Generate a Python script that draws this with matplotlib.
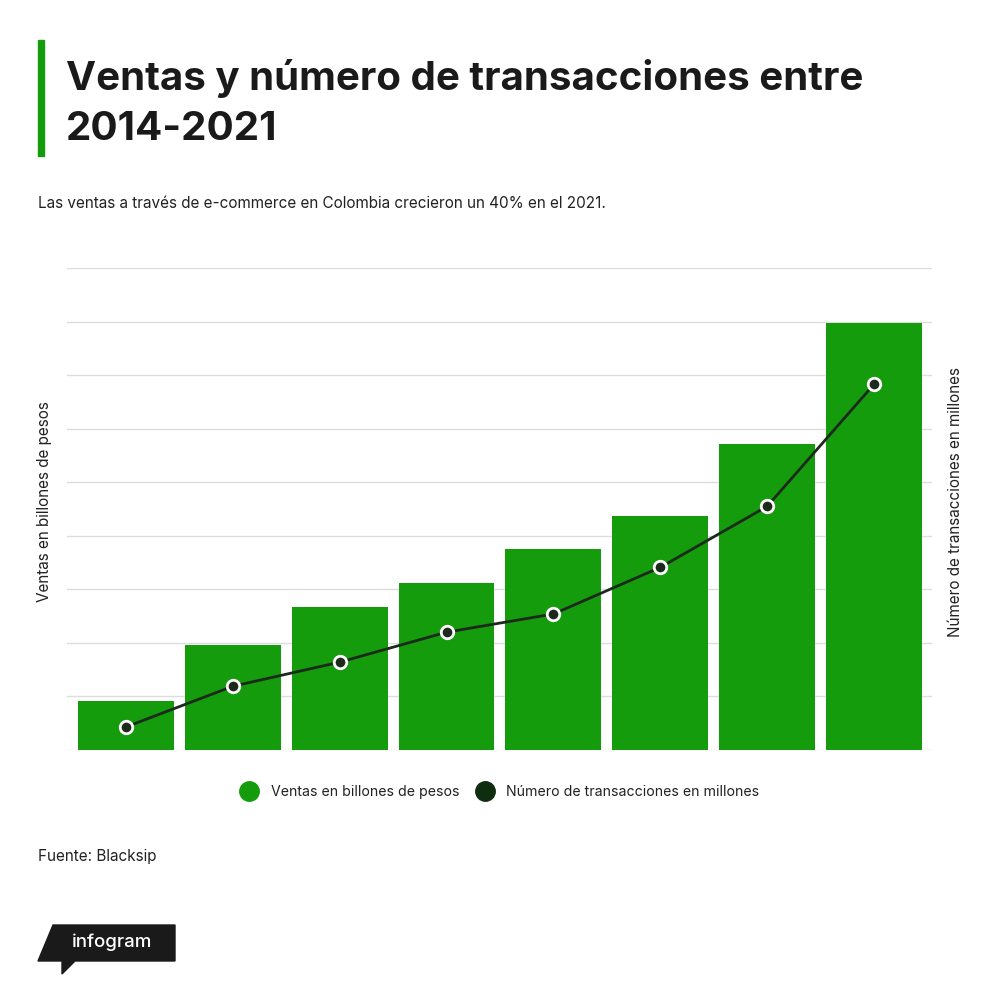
import matplotlib.pyplot as plt
import numpy as np
from matplotlib.lines import Line2D
from matplotlib.patches import Polygon, Rectangle

# data (no tick labels in the original, values in grid units)
years = ['2014', '2015', '2016', '2017', '2018', '2019', '2020', '2021']
ventas = [0.91, 1.96, 2.67, 3.12, 3.75, 4.37, 5.71, 7.97]
transacciones = [0.43, 1.19, 1.64, 2.20, 2.54, 3.41, 4.55, 6.83]

green = '#149c0c'
dark = '#1c2a1c'
font = ['Inter', 'DejaVu Sans']
plt.rcParams['font.family'] = font

W, H = 1000, 993
fig = plt.figure(figsize=(W / 100, H / 100), dpi=100)
fig.patch.set_facecolor('white')

def fx(px): return px / W
def fy(py): return 1 - py / H

ax = fig.add_axes([fx(67), fy(750), fx(932) - fx(67), fy(268) - fy(750)])
x = np.arange(len(years))
ax.bar(x, ventas, width=0.897, color=green, zorder=2)
ax.set_xlim(-0.551, len(years) - 0.458)
ax.set_ylim(0, 9)
ax.set_yticks(np.arange(0, 10))
ax.grid(axis='y', color='#dddddd', linewidth=1, zorder=0)
for s in ax.spines.values():
    s.set_visible(False)

ax2 = ax.twinx()
ax2.plot(x, transacciones, color=dark, linewidth=2, marker='o', markersize=9,
         markerfacecolor=dark, markeredgecolor='white', markeredgewidth=2, zorder=3)
ax2.set_ylim(0, 9)
for s in ax2.spines.values():
    s.set_visible(False)
# twinx resets the left ticks, so hide them afterwards
ax.tick_params(left=False, right=False, bottom=False, labelleft=False, labelbottom=False)
ax2.tick_params(left=False, right=False, labelleft=False, labelright=False)

# axis labels
fig.text(fx(45), fy(502), 'Ventas en billones de pesos', rotation=90,
         ha='center', va='center', fontsize=11, color='#222222')
fig.text(fx(955), fy(502), 'Número de transacciones en millones', rotation=90,
         ha='center', va='center', fontsize=11, color='#222222')

# title block
fig.patches.append(Rectangle((fx(38), fy(156)), fx(6), fy(40) - fy(156),
                             transform=fig.transFigure, color=green))
fig.text(fx(66), fy(78), 'Ventas y número de transacciones entre',
         fontsize=29, fontweight='bold', color='#1a1a1a', va='center')
fig.text(fx(66), fy(130), '2014-2021',
         fontsize=29, fontweight='bold', color='#1a1a1a', va='center')
fig.text(fx(38), fy(203), 'Las ventas a través de e-commerce en Colombia crecieron un 40% en el 2021.',
         fontsize=11, color='#222222', va='center')

# legend
handles = [Line2D([], [], linestyle='none', marker='o', markersize=14, color=green),
           Line2D([], [], linestyle='none', marker='o', markersize=14, color='#0f2e0f')]
fig.legend(handles, ['Ventas en billones de pesos', 'Número de transacciones en millones'],
           loc='center', bbox_to_anchor=(fx(497), fy(792)), ncol=2, frameon=False,
           fontsize=10.2, handletextpad=0.5, columnspacing=0.8, labelcolor='#222222')

fig.text(fx(38), fy(856), 'Fuente: Blacksip', fontsize=11, color='#222222', va='center')

# infogram badge
pts = [(53, 925), (175, 925), (175, 961), (75, 961), (62, 974), (62, 961), (38, 961)]
fig.patches.append(Polygon([(fx(a), fy(b)) for a, b in pts], closed=True,
                           transform=fig.transFigure, color='#1a1a1a'))
fig.text(fx(112), fy(942), 'infogram', fontsize=13.5, color='white',
         ha='center', va='center', fontweight='medium')

fig.savefig('out.png', dpi=100, facecolor='white')
